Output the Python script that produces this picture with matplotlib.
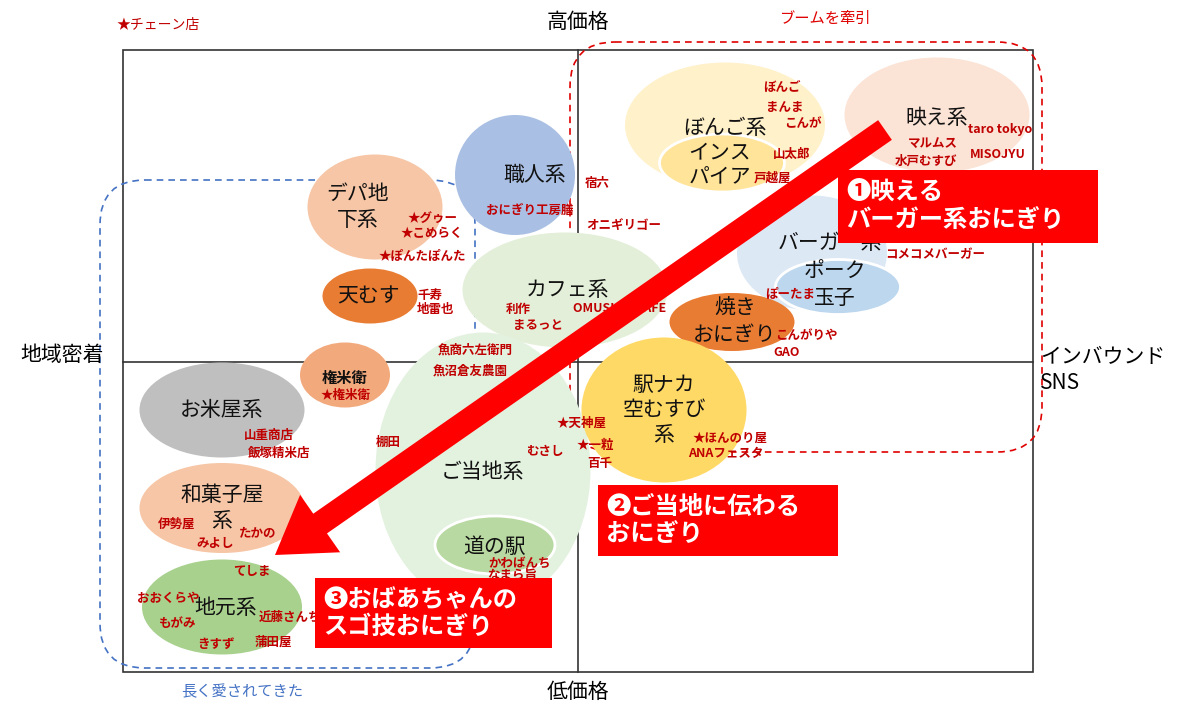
import matplotlib
matplotlib.use("Agg")
import matplotlib.pyplot as plt
from matplotlib.patches import Ellipse, FancyBboxPatch, FancyArrow, Rectangle

plt.rcParams['font.family'] = ['Noto Sans CJK JP', 'DejaVu Sans']

RED = "#C00000"
BLUE = "#4472C4"

# bubbles: name, cx, cy, width, height, colour, white edge
bubble_names = ["デパ地\n下系", "職人系", "天むす", "カフェ系", "権米衛", "お米屋系", "ご当地系",
                "道の駅", "和菓子屋\n系", "地元系", "ぼんご系", "インス\nパイア", "映え系",
                "バーガー系", "ポーク\n玉子", "焼き\nおにぎり", "駅ナカ\n空むすび\n系"]
bubble_x = [375, 515, 370, 565, 345, 222, 483, 495, 222, 222, 725, 722, 937, 812, 838, 732, 664]
bubble_y = [207, 175, 296, 290, 375, 410, 470, 545, 508, 607, 125, 163, 115, 253, 287, 322, 410]
bubble_w = [135, 120, 95, 205, 90, 165, 215, 120, 165, 160, 200, 125, 185, 150, 125, 125, 165]
bubble_h = [105, 120, 55, 115, 65, 95, 275, 58, 90, 95, 125, 58, 115, 115, 55, 58, 145]
bubble_c = ["#F6C6A6", "#A9BFE3", "#E97C33", "#E3EFD9", "#F2A97C", "#BFBFBF", "#E3F1DF",
            "#B8D9A1", "#F6C6A6", "#A9D18E", "#FFF1C9", "#FFE49A", "#FBE3D5",
            "#DDE8F5", "#BDD7EE", "#E97C33", "#FFD966"]
bubble_edge = [0, 0, 0, 0, 0, 0, 0, 1, 0, 0, 0, 1, 0, 0, 1, 0, 0]
# label positions of category names inside bubbles
name_x = [358, 535, 368, 567, 345, 222, 483, 495, 222, 226, 725, 720, 937, 830, 835, 735, 664]
name_y = [207, 175, 296, 290, 378, 410, 472, 547, 508, 608, 128, 165, 118, 243, 285, 322, 410]

shop_names = ["★グゥー", "★こめらく", "★ぽんたぽんた", "宿六", "おにぎり工房膳", "オニギリゴー",
              "千寿", "地雷也", "利作", "まるっと", "OMUSUBI CAFE", "魚商六左衛門", "魚沼倉友農園",
              "棚田", "むさし", "★天神屋", "★一粒", "百千", "★権米衛", "山重商店", "飯塚精米店",
              "伊勢屋", "みよし", "たかの", "てしま", "おおくらや", "もがみ", "きすず", "近藤さんち",
              "蒲田屋", "かわばんち", "なまら旨", "ぼんご", "まんま", "こんが", "山太郎", "戸越屋",
              "taro tokyo", "マルムス", "水戸むすび", "MISOJYU", "コメコメバーガー", "ぽーたま",
              "こんがりや", "GAO", "★ほんのり屋", "ANAフェスタ"]
shop_x = [433, 432, 422, 597, 530, 624, 430, 436, 518, 538, 620, 475, 470, 388, 545, 582,
          595, 600, 346, 269, 279, 177, 215, 258, 252, 168, 178, 216, 290, 273, 520, 512,
          782, 785, 803, 792, 773, 1000, 933, 926, 998, 935, 790, 806, 787, 730, 726]
shop_y = [218, 233, 256, 184, 210, 226, 295, 310, 309, 326, 309, 350, 371, 442, 452, 423,
          445, 463, 395, 435, 453, 524, 543, 533, 572, 598, 624, 644, 617, 642, 563, 576,
          88, 107, 124, 154, 178, 130, 143, 161, 155, 255, 294, 336, 352, 438, 453]

callouts = ["❶映える\nバーガー系おにぎり", "❷ご当地に伝わる\nおにぎり", "❸おばあちゃんの\nスゴ技おにぎり"]
callout_x0 = [838, 598, 315]
callout_y0 = [170, 485, 578]
callout_w = [260, 240, 237]
callout_h = [73, 71, 70]

fig = plt.figure(figsize=(12, 7.18), dpi=100)
ax = fig.add_axes([0, 0, 1, 1])
ax.set_xlim(0, 1200)
ax.set_ylim(718, 0)
ax.axis("off")

# frame and cross axes
ax.add_patch(Rectangle((123, 50), 910, 622, fill=False, ec="#333333", lw=1.2, zorder=1))
ax.plot([578, 578], [50, 672], color="#333333", lw=1.2, zorder=1)
ax.plot([123, 1033], [362, 362], color="#333333", lw=1.2, zorder=1)

# dashed groupings
ax.add_patch(FancyBboxPatch((100, 180), 375, 488, boxstyle="round,pad=0,rounding_size=45",
                            fill=False, ec=BLUE, ls=(0, (4, 3)), lw=1.2, zorder=1))
ax.add_patch(FancyBboxPatch((570, 42), 472, 410, boxstyle="round,pad=0,rounding_size=45",
                            fill=False, ec="#E00000", ls=(0, (4, 3)), lw=1.2, zorder=1))

for i in range(len(bubble_names)):
    ec = "white" if bubble_edge[i] else "none"
    ax.add_patch(Ellipse((bubble_x[i], bubble_y[i]), bubble_w[i], bubble_h[i],
                         fc=bubble_c[i], ec=ec, lw=2, zorder=2 + (bubble_edge[i] or i == 4 or i == 14)))
for i in range(len(bubble_names)):
    fs = 11 if i == 4 else 15
    ax.text(name_x[i], name_y[i], bubble_names[i], ha="center", va="center", fontsize=fs,
            fontweight="bold" if i == 4 else "normal", color="#111111", linespacing=1.2, zorder=5)

for s, x, y in zip(shop_names, shop_x, shop_y):
    ax.text(x, y, s, ha="center", va="center", fontsize=9, color=RED, fontweight="bold", zorder=5)

# trend arrow
ax.add_patch(FancyArrow(885, 130, 275 - 885, 555 - 130, width=24, head_width=70, head_length=55,
                        length_includes_head=True, fc="#FF0000", ec="none", zorder=6))

for t, x0, y0, w, h in zip(callouts, callout_x0, callout_y0, callout_w, callout_h):
    ax.add_patch(Rectangle((x0, y0), w, h, fc="#FF0000", ec="none", zorder=7))
    ax.text(x0 + 8, y0 + h / 2, t, ha="left", va="center", fontsize=17.5, color="white",
            fontweight="bold", linespacing=1.15, zorder=8)

ax.text(578, 22, "高価格", ha="center", va="center", fontsize=15)
ax.text(578, 692, "低価格", ha="center", va="center", fontsize=15)
ax.text(62, 355, "地域密着", ha="center", va="center", fontsize=15)
ax.text(1040, 370, "インバウンド\nSNS", ha="left", va="center", fontsize=15, linespacing=1.2)
ax.text(158, 25, "★チェーン店", ha="center", va="center", fontsize=10, color=RED)
ax.text(825, 18, "ブームを牽引", ha="center", va="center", fontsize=11, color="#E00000")
ax.text(242, 692, "長く愛されてきた", ha="center", va="center", fontsize=11, color=BLUE)

fig.savefig("out.png", dpi=100, facecolor="white")
